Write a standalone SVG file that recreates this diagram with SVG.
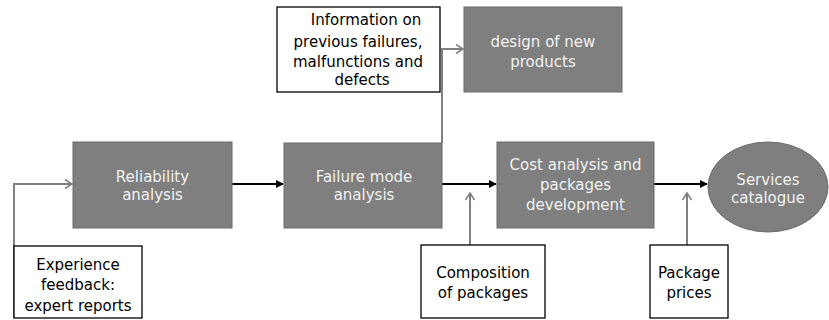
<svg xmlns="http://www.w3.org/2000/svg" width="829" height="320" viewBox="0 0 829 320">
<style>
.proc{fill:#7f7f7f;stroke:#6b6b6b;stroke-width:1}
.inp{fill:#fff;stroke:#000;stroke-width:1.3}
.tw{font-family:"DejaVu Sans",Verdana,sans-serif;font-size:15px;fill:#f2f2f2;text-anchor:middle}
.tb{font-family:"DejaVu Sans",Verdana,sans-serif;font-size:15px;fill:#000;text-anchor:middle}
.main{fill:none;stroke:#000;stroke-width:2}
.side{fill:none;stroke:#808080;stroke-width:2}
</style>
<defs>
<marker id="ab" markerWidth="10" markerHeight="10" refX="8" refY="5" orient="auto" markerUnits="userSpaceOnUse">
<path d="M1,1 L9,5 L1,9 z" fill="#000"/>
</marker>
<marker id="ag" markerWidth="12" markerHeight="12" refX="10" refY="6" orient="auto" markerUnits="userSpaceOnUse">
<path d="M3,1.5 L10,6 L3,10.5" fill="none" stroke="#808080" stroke-width="1.5"/>
</marker>
</defs>
<g id="connectors">
<path class="main" d="M232,184 H283" marker-end="url(#ab)"/>
<path class="main" d="M442,184 H496" marker-end="url(#ab)"/>
<path class="main" d="M654,184 H707" marker-end="url(#ab)"/>
<path class="side" d="M14,318 V184 H72" marker-end="url(#ag)"/>
<path class="side" d="M442,143 V49 H463" marker-end="url(#ag)"/>
<path class="side" d="M470,245 V193" marker-end="url(#ag)"/>
<path class="side" d="M687,245 V193" marker-end="url(#ag)"/>
</g>
<g id="reliability">
<rect class="proc" x="73" y="142" width="159" height="86"/>
<text class="tw" x="152.5" y="182">Reliability</text>
<text class="tw" x="152.5" y="200">analysis</text>
</g>
<g id="failure">
<rect class="proc" x="284" y="143" width="158" height="85"/>
<text class="tw" x="364" y="182">Failure mode</text>
<text class="tw" x="364" y="200">analysis</text>
</g>
<g id="cost">
<rect class="proc" x="497" y="142" width="157" height="86"/>
<text class="tw" x="575.5" y="170">Cost analysis and</text>
<text class="tw" x="575.5" y="190">packages</text>
<text class="tw" x="575.5" y="210">development</text>
</g>
<g id="services">
<ellipse class="proc" cx="768" cy="187" rx="60" ry="45"/>
<text class="tw" x="768" y="185">Services</text>
<text class="tw" x="768" y="203">catalogue</text>
</g>
<g id="design">
<rect class="proc" x="464" y="7" width="158" height="85"/>
<text class="tw" x="543" y="47">design of new</text>
<text class="tw" x="543" y="67">products</text>
</g>
<g id="information">
<rect class="inp" x="277" y="7" width="163" height="85"/>
<text class="tb" x="366" y="25">Information on</text>
<text class="tb" x="358" y="47">previous failures,</text>
<text class="tb" x="358" y="67">malfunctions and</text>
<text class="tb" x="362" y="85">defects</text>
</g>
<g id="experience">
<rect class="inp" x="14" y="246" width="128" height="72"/>
<text class="tb" x="78" y="270">Experience</text>
<text class="tb" x="78" y="290">feedback:</text>
<text class="tb" x="78" y="311">expert reports</text>
</g>
<g id="composition">
<rect class="inp" x="421" y="245" width="124" height="73"/>
<text class="tb" x="483" y="278">Composition</text>
<text class="tb" x="483" y="298">of packages</text>
</g>
<g id="prices">
<rect class="inp" x="650" y="245" width="78" height="73"/>
<text class="tb" x="689" y="278">Package</text>
<text class="tb" x="689" y="298">prices</text>
</g>
</svg>
